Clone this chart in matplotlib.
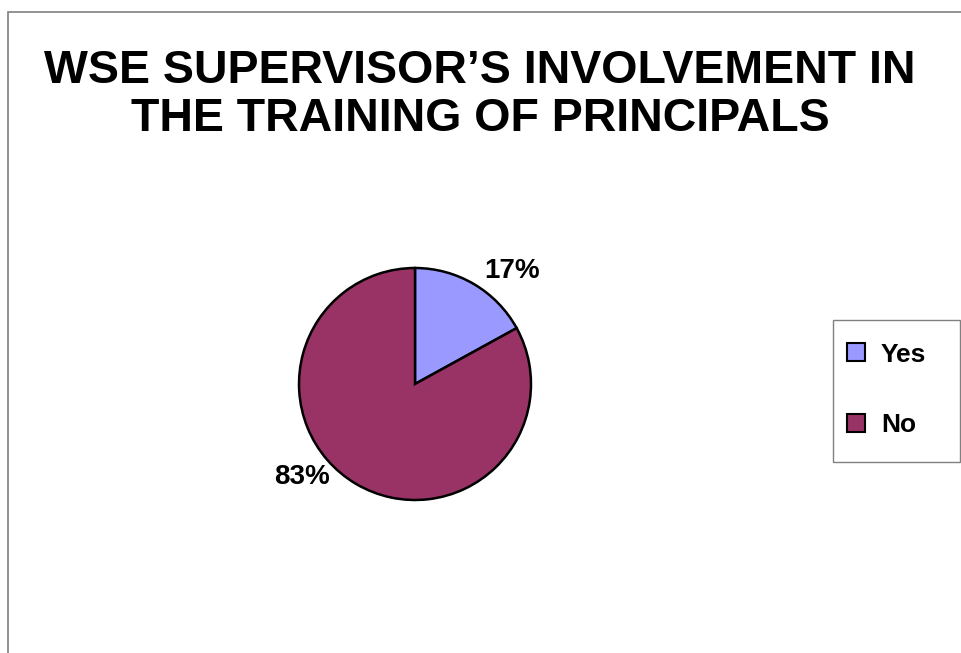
import matplotlib
matplotlib.use("Agg")
import matplotlib.pyplot as plt
from matplotlib.patches import Rectangle, Patch

plt.rcParams['font.family'] = ['Liberation Sans', 'DejaVu Sans']

title = "WSE SUPERVISOR\u2019S INVOLVEMENT IN\nTHE TRAINING OF PRINCIPALS"
categories = ["Yes", "No"]
values = [17, 83]
colors = ["#9999FF", "#993366"]

W, H = 962, 653
fig = plt.figure(figsize=(W / 100, H / 100), dpi=100)

# outer chart border (only top/left visible)
fig.patches.append(Rectangle((8 / W, -0.1), 1.2, 1 - 12 / H + 0.1,
                             transform=fig.transFigure, fill=False,
                             edgecolor="#808080", linewidth=1.2))

fig.text(480 / W, 1 - 95 / H, title, ha="center", va="center",
         fontsize=33.5, fontweight="bold", linespacing=1.13)

cx, cy, r = 415, 384, 116
ax = fig.add_axes([(cx - 1.5 * r) / W, (H - cy - 1.5 * r) / H, 3 * r / W, 3 * r / H])
wedges, texts = ax.pie(values, colors=colors, startangle=90, counterclock=False,
                       wedgeprops=dict(edgecolor="black", linewidth=1.8))
ax.set_xlim(-1.5, 1.5)
ax.set_ylim(-1.5, 1.5)
ax.set_aspect("equal")
ax.axis("off")

label_pos = [(512, 271), (302, 477)]
for v, (px, py) in zip(values, label_pos):
    ax.text((px - cx) / r, (cy - py) / r, f"{v}%", ha="center", va="center",
            fontsize=20, fontweight="bold")

# legend box
fig.patches.append(Rectangle((833 / W, 1 - 462 / H), 127 / W, 142 / H,
                             transform=fig.transFigure, fill=False,
                             edgecolor="#808080", linewidth=1.0))
handles = [Patch(facecolor=c, edgecolor="black", linewidth=1.5) for c in colors]
leg = fig.legend(handles, categories, loc="center left",
                 bbox_to_anchor=(847 / W, 1 - 390 / H), bbox_transform=fig.transFigure,
                 borderaxespad=0, borderpad=0, frameon=False,
                 prop=dict(size=19, weight="bold"), handlelength=0.68, handleheight=0.68,
                 handletextpad=0.6, labelspacing=1.78)

fig.savefig("out.png", dpi=100, facecolor="white")
